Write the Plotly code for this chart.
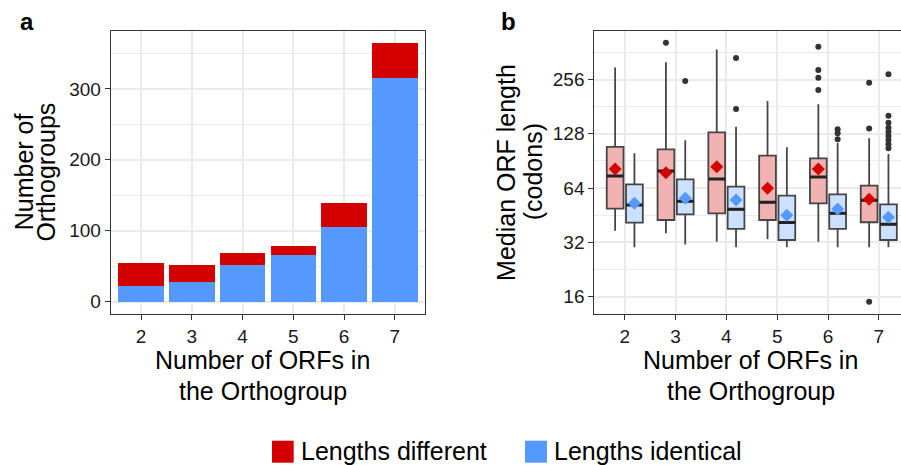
import plotly.graph_objects as go
import math

# ---------------- data ----------------
categories = [2, 3, 4, 5, 6, 7]
tick_labels = ["2", "3", "4", "5", "6", "7"]

# panel a: number of orthogroups (stacked)
identical = [22, 27, 51, 66, 105, 316]
different = [33, 25, 18, 13, 34, 48]

# panel b: box statistics of median ORF length (codons)
diff_lower = [37.1, 36.0, 32.3, 33.3, 32.3, 30.1]
diff_q1 = [49.2, 42.6, 46.4, 42.6, 52.7, 41.4]
diff_median = [74.7, 79.6, 71.9, 53.4, 73.7, 54.8]
diff_q3 = [108.5, 105.0, 130.5, 96.8, 93.6, 66.0]
diff_upper = [299, 319, 376, 194.6, 186.5, 120.9]
diff_mean = [81.7, 78.0, 84.1, 63.8, 81.7, 55.5]
diff_out_cat = [3, 6, 6, 6, 6, 7, 7, 7]
diff_out_val = [410, 389, 289, 262, 224, 245.7, 137, 15]

ident_lower = [30.1, 31.2, 30.1, 30.1, 30.1, 30.1]
ident_q1 = [41.2, 45.8, 38.0, 33.0, 38.0, 33.0]
ident_median = [51.6, 54.1, 48.8, 41.2, 46.4, 40.3]
ident_q3 = [67.2, 71.6, 65.2, 58.1, 59.1, 52.0]
ident_upper = [99.8, 118, 140, 107.7, 114, 98.9]
ident_mean = [52.7, 56.2, 55.0, 45.2, 49.0, 44.1]
ident_out_cat = [3, 4, 4, 6, 6, 6, 7, 7, 7, 7, 7, 7, 7, 7, 7]
ident_out_val = [251, 337, 176, 135.6, 128.8, 119.3,
                 273.6, 161, 147.5, 138.4, 131.5, 124.5, 118.3, 112, 106.4]

log_ticks = [16, 32, 64, 128, 256]
log_minor = [2 ** 4.5, 2 ** 5.5, 2 ** 6.5, 2 ** 7.5, 2 ** 8.5]

# ---------------- style ----------------
RED = "#D40000"
BLUE = "#5599FF"
RED_FILL = "#F2B2B2"
BLUE_FILL = "#CCE0FF"
GRID = "#EBEBEB"
AXC = "#333333"
FONT = "Liberation Sans"
W, H = 901, 465
DODGE = 0.19
BOXW = 0.33


def px(x):
    return x / W


def py(y):
    return 1 - y / H


fig = go.Figure()

# panel a bars
fig.add_trace(go.Bar(x=categories, y=identical, marker=dict(color=BLUE, line=dict(width=0)),
                     name="Lengths identical", showlegend=False, xaxis="x", yaxis="y"))
fig.add_trace(go.Bar(x=categories, y=different, marker=dict(color=RED, line=dict(width=0)),
                     name="Lengths different", showlegend=False, xaxis="x", yaxis="y"))

# panel b boxes
diff_x = [c - DODGE for c in categories]
ident_x = [c + DODGE for c in categories]
for xs, lo, q1, med, q3, up, fill in [
    (diff_x, diff_lower, diff_q1, diff_median, diff_q3, diff_upper, RED_FILL),
    (ident_x, ident_lower, ident_q1, ident_median, ident_q3, ident_upper, BLUE_FILL),
]:
    fig.add_trace(go.Box(x=xs, q1=q1, median=med, q3=q3, lowerfence=lo, upperfence=up,
                         width=BOXW, whiskerwidth=0, fillcolor=fill,
                         line=dict(color="#454545", width=1.8), boxpoints=False,
                         showlegend=False, hoverinfo="skip", xaxis="x2", yaxis="y2"))
    # thicker median bar drawn as a degenerate box
    fig.add_trace(go.Box(x=xs, q1=med, median=med, q3=med, lowerfence=med, upperfence=med,
                         width=BOXW, whiskerwidth=0, fillcolor="rgba(0,0,0,0)",
                         line=dict(color="#222222", width=3), boxpoints=False,
                         showlegend=False, hoverinfo="skip", xaxis="x2", yaxis="y2"))

# outliers
fig.add_trace(go.Scatter(x=[c - DODGE for c in diff_out_cat], y=diff_out_val, mode="markers",
                         marker=dict(color=AXC, size=6), showlegend=False, xaxis="x2", yaxis="y2"))
fig.add_trace(go.Scatter(x=[c + DODGE for c in ident_out_cat], y=ident_out_val, mode="markers",
                         marker=dict(color=AXC, size=6), showlegend=False, xaxis="x2", yaxis="y2"))
# means
fig.add_trace(go.Scatter(x=diff_x, y=diff_mean, mode="markers",
                         marker=dict(color=RED, size=10, symbol="diamond", line=dict(width=0)),
                         showlegend=False, xaxis="x2", yaxis="y2"))
fig.add_trace(go.Scatter(x=ident_x, y=ident_mean, mode="markers",
                         marker=dict(color=BLUE, size=10, symbol="diamond", line=dict(width=0)),
                         showlegend=False, xaxis="x2", yaxis="y2"))

ydom = [py(314), py(30.7)]
common_axis = dict(showline=True, linecolor=AXC, linewidth=1, ticks="outside", ticklen=5,
                   tickcolor=AXC, tickwidth=1, showgrid=True, gridcolor=GRID, gridwidth=2,
                   zeroline=False, tickfont=dict(family=FONT, size=19, color="#1a1a1a"))

fig.update_layout(
    width=W, height=H, margin=dict(l=0, r=0, t=0, b=0),
    paper_bgcolor="white", plot_bgcolor="white",
    barmode="stack", bargap=0.1, boxmode="overlay",
    font=dict(family=FONT, color="black"),
    xaxis=dict(domain=[px(110.7), px(425.3)], range=[1.4, 7.6], tickvals=categories,
               ticktext=tick_labels, mirror=True, anchor="y", **common_axis),
    yaxis=dict(domain=ydom, range=[-17.5, 382], tickvals=[0, 100, 200, 300], mirror=True,
               anchor="x",
               minor=dict(tickvals=[50, 150, 250, 350], showgrid=True, gridcolor=GRID,
                          gridwidth=1, ticks=""),
               **common_axis),
    xaxis2=dict(domain=[px(594.3), 1.0], range=[1.4, 7.437], tickvals=categories,
                ticktext=tick_labels, mirror=True, anchor="y2", **common_axis),
    yaxis2=dict(domain=ydom, type="log",
                range=[3.681 * math.log10(2), 8.9 * math.log10(2)],
                tickvals=log_ticks, ticktext=[str(v) for v in log_ticks], mirror=False,
                anchor="x2",
                minor=dict(tickvals=log_minor, showgrid=True, gridcolor=GRID,
                           gridwidth=1, ticks=""),
                **common_axis),
    showlegend=False,
)

TF = dict(family=FONT, size=25, color="black")
ann = []


def add_text(text, x, y, angle=0, xanchor="center", yanchor="middle", font=TF):
    ann.append(dict(text=text, x=px(x), y=py(y), xref="paper", yref="paper",
                    showarrow=False, textangle=angle, xanchor=xanchor, yanchor=yanchor,
                    font=font))


# panel labels
LF = dict(family=FONT, size=24, color="black", weight="bold")
add_text("<b>a</b>", 26.7, 21.7, font=LF)
add_text("<b>b</b>", 508.3, 21.0, font=LF)

# y titles
add_text("Number of", 24.0, 172.3, angle=-90)
add_text("Orthogroups", 46.3, 172.3, angle=-90)
add_text("Median ORF length", 506.6, 172.3, angle=-90)
add_text("(codons)", 533.0, 172.3, angle=-90)

# x titles
add_text("Number of ORFs in", 262.5, 359.6)
add_text("the Orthogroup", 262.8, 390.6)
add_text("Number of ORFs in", 750.8, 359.6)
add_text("the Orthogroup", 751.3, 390.6)

# legend
add_text("Lengths different", 299, 450.6, xanchor="left")
add_text("Lengths identical", 552, 450.6, xanchor="left")
fig.update_layout(annotations=ann)

fig.add_shape(type="rect", xref="paper", yref="paper", x0=px(272), x1=px(293.7),
              y0=py(462.7), y1=py(440.7), fillcolor=RED, line=dict(width=0))
fig.add_shape(type="rect", xref="paper", yref="paper", x0=px(525), x1=px(547),
              y0=py(462.7), y1=py(440.7), fillcolor=BLUE, line=dict(width=0))

fig.write_html("out.html")
